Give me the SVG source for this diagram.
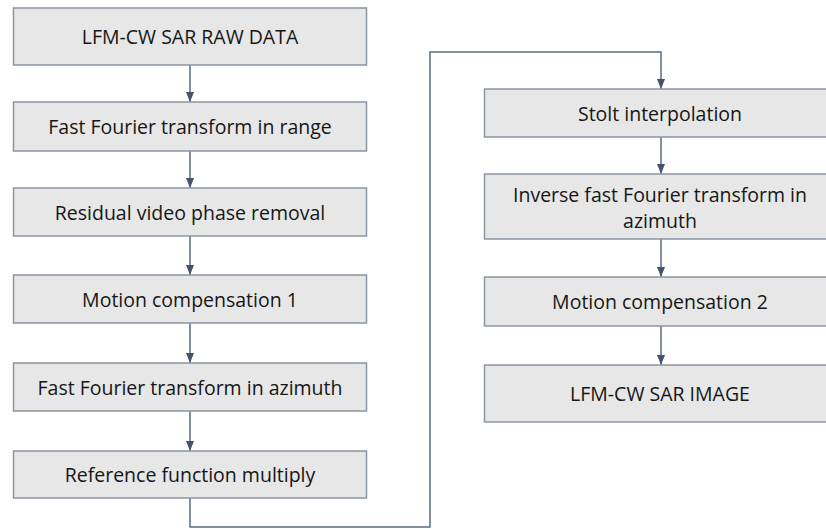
<svg xmlns="http://www.w3.org/2000/svg" width="826" height="529" viewBox="0 0 826 529">
<style>
.box{fill:#e7e7e7;stroke:#8a96a3;stroke-width:1.5}
.t{font-family:"Open Sans","Liberation Sans",sans-serif;font-size:19.5px;fill:#161616;text-anchor:middle;dominant-baseline:central}
.c{fill:none;stroke:#5b6b7e;stroke-width:1.5}
</style>
<defs>
<marker id="ah" markerWidth="10" markerHeight="8" refX="10" refY="4" orient="auto" markerUnits="userSpaceOnUse" viewBox="0 0 10 8">
<path d="M0,0 L10,4 L0,8 Z" fill="#44546a"/>
</marker>
</defs>
<rect width="826" height="529" fill="#ffffff"/>
<g id="connectors">
<line class="c" x1="190" y1="65" x2="190" y2="102" marker-end="url(#ah)"/>
<line class="c" x1="190" y1="151" x2="190" y2="188" marker-end="url(#ah)"/>
<line class="c" x1="190" y1="236" x2="190" y2="275" marker-end="url(#ah)"/>
<line class="c" x1="190" y1="323" x2="190" y2="363" marker-end="url(#ah)"/>
<line class="c" x1="190" y1="411" x2="190" y2="451" marker-end="url(#ah)"/>
<path class="c" d="M190,498 V527 H430 V52 H661 V89" marker-end="url(#ah)"/>
<line class="c" x1="661" y1="137" x2="661" y2="174" marker-end="url(#ah)"/>
<line class="c" x1="661" y1="239" x2="661" y2="277" marker-end="url(#ah)"/>
<line class="c" x1="661" y1="326" x2="661" y2="365" marker-end="url(#ah)"/>
</g>
<g id="n1"><rect class="box" x="13.5" y="8" width="353" height="57"/><text class="t" x="190" y="36.5">LFM-CW SAR RAW DATA</text></g>
<g id="n2"><rect class="box" x="13.5" y="102" width="353" height="49"/><text class="t" x="190" y="126.5">Fast Fourier transform in range</text></g>
<g id="n3"><rect class="box" x="13.5" y="188" width="353" height="48"/><text class="t" x="190" y="212">Residual video phase removal</text></g>
<g id="n4"><rect class="box" x="13.5" y="275" width="353" height="48"/><text class="t" x="190" y="299">Motion compensation 1</text></g>
<g id="n5"><rect class="box" x="13.5" y="363" width="353" height="48"/><text class="t" x="190" y="387">Fast Fourier transform in azimuth</text></g>
<g id="n6"><rect class="box" x="13.5" y="451" width="353" height="47"/><text class="t" x="190" y="474.5">Reference function multiply</text></g>
<g id="n7"><rect class="box" x="484.5" y="89" width="353" height="48"/><text class="t" x="660" y="113">Stolt interpolation</text></g>
<g id="n8"><rect class="box" x="484.5" y="174" width="353" height="65"/><text class="t" x="660" y="194.5">Inverse fast Fourier transform in</text><text class="t" x="660" y="220.5">azimuth</text></g>
<g id="n9"><rect class="box" x="484.5" y="277" width="353" height="49"/><text class="t" x="660" y="301.5">Motion compensation 2</text></g>
<g id="n10"><rect class="box" x="484.5" y="365" width="353" height="57"/><text class="t" x="660" y="393.5">LFM-CW SAR IMAGE</text></g>
</svg>
